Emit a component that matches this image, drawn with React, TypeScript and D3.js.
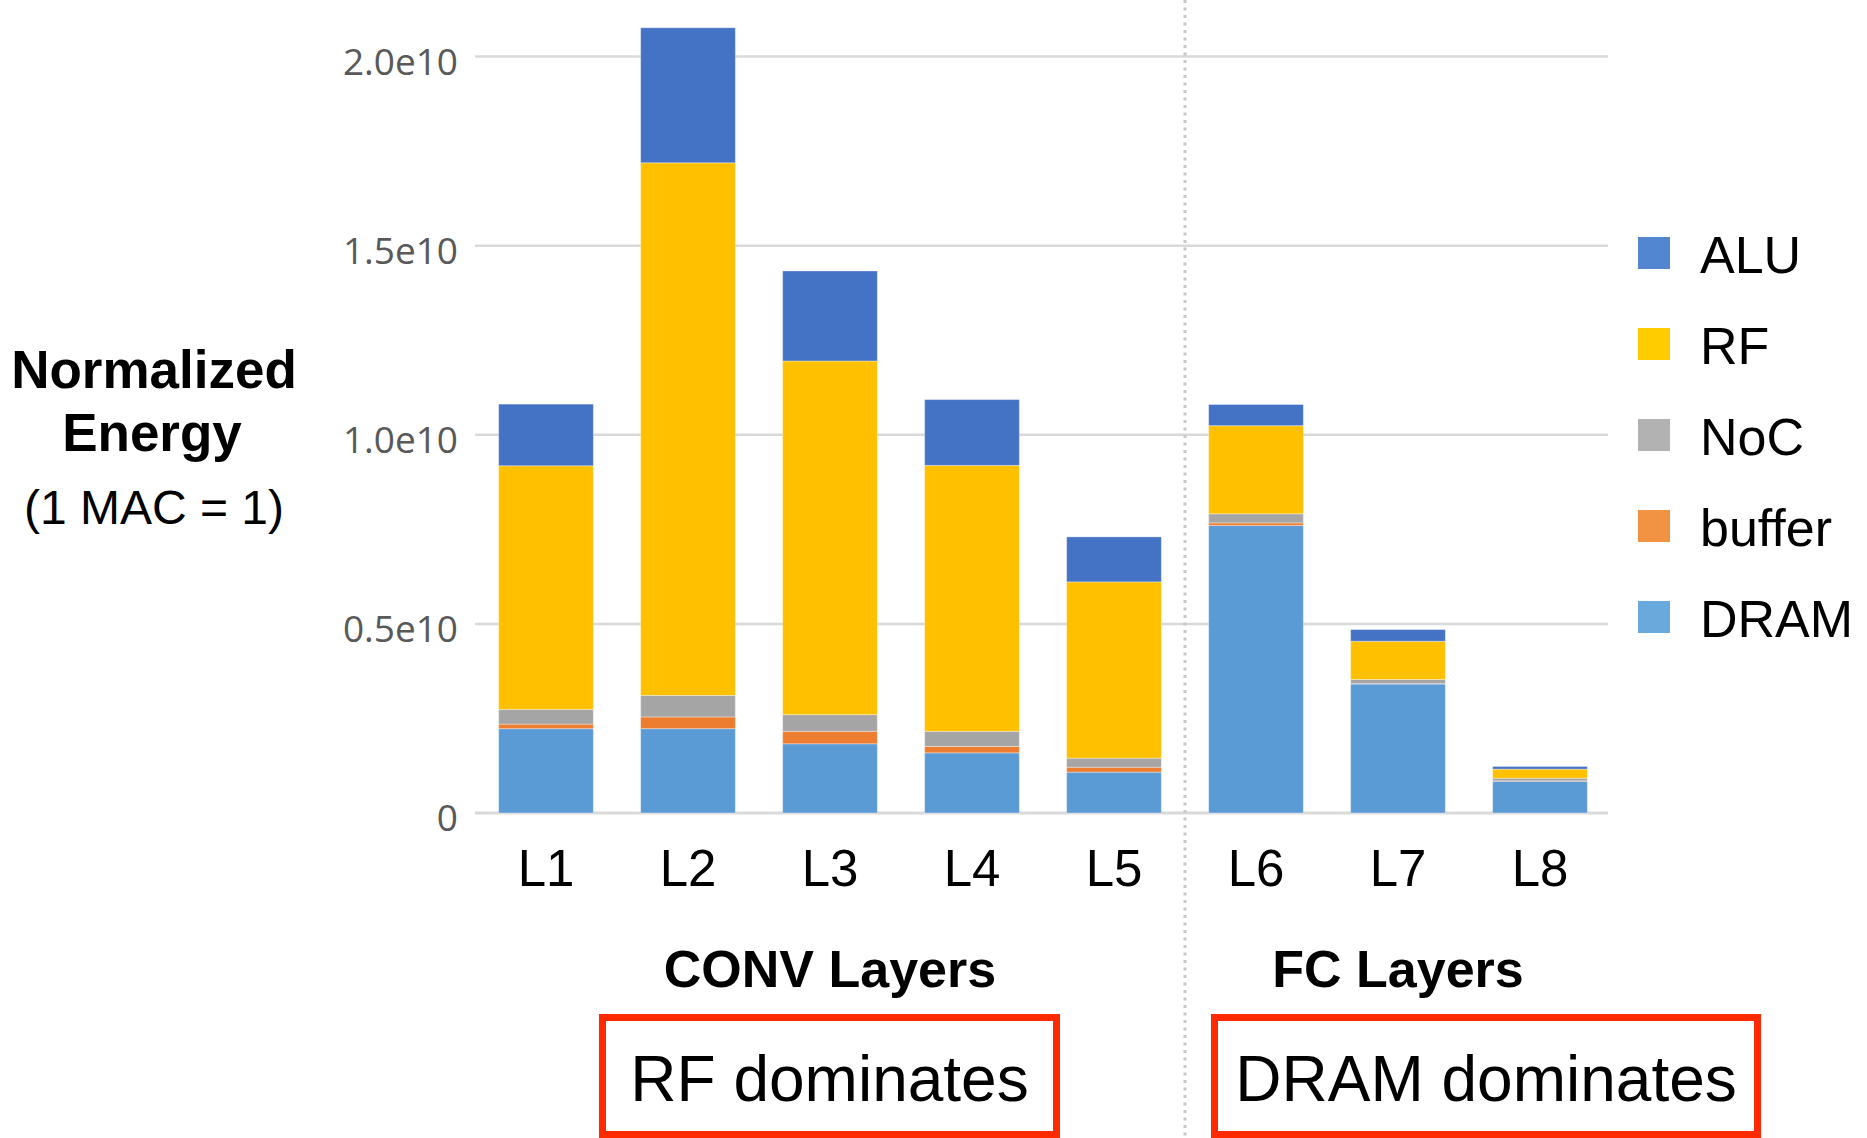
import React from "react";
import * as d3 from "d3";

const categories = ["L1", "L2", "L3", "L4", "L5", "L6", "L7", "L8"];
const DRAM = [2.23e9, 2.23e9, 1.83e9, 1.59e9, 1.08e9, 7.6e9, 3.41e9, 0.84e9];
const buffer = [0.12e9, 0.31e9, 0.33e9, 0.17e9, 0.13e9, 0.07e9, 0.01e9, 0.01e9];
const NoC = [0.39e9, 0.57e9, 0.44e9, 0.4e9, 0.24e9, 0.24e9, 0.11e9, 0.07e9];
const RF = [6.44e9, 14.08e9, 9.35e9, 7.03e9, 4.66e9, 2.33e9, 1.01e9, 0.24e9];
const ALU = [1.63e9, 3.57e9, 2.38e9, 1.74e9, 1.19e9, 0.56e9, 0.31e9, 0.07e9];

const stackKeys = ["DRAM", "buffer", "NoC", "RF", "ALU"];
const legendKeys = ["ALU", "RF", "NoC", "buffer", "DRAM"];
const barColors: Record<string, string> = {
  ALU: "#4472C4",
  RF: "#FFC000",
  NoC: "#A5A5A5",
  buffer: "#ED7D31",
  DRAM: "#5B9BD5",
};
const legendColors: Record<string, string> = {
  ALU: "#5386D0",
  RF: "#FFCC00",
  NoC: "#B2B2B2",
  buffer: "#F29343",
  DRAM: "#6AA9DB",
};

const yTicks = [0, 0.5e10, 1.0e10, 1.5e10, 2.0e10];
const yTickLabels = ["0", "0.5e10", "1.0e10", "1.5e10", "2.0e10"];

const groupLabels = ["CONV Layers", "FC Layers"];
const groupCenters = ["L3", "L7"];
const boxLabels = ["RF dominates", "DRAM dominates"];

export default function App() {
  const W = 1867;
  const H = 1138;
  const x = d3
    .scaleBand<string>()
    .domain(categories)
    .range([475, 1611])
    .paddingInner(0.333)
    .paddingOuter(0.1665);
  const y = d3.scaleLinear().domain([0, 2e10]).range([813, 56.5]);

  const rows = categories.map((c, i) => ({
    cat: c,
    DRAM: DRAM[i],
    buffer: buffer[i],
    NoC: NoC[i],
    RF: RF[i],
    ALU: ALU[i],
  }));
  const series = d3.stack<any>().keys(stackKeys)(rows);

  const divX = (x("L5")! + x.bandwidth() + x("L6")!) / 2;
  const sans = "'Liberation Sans', Arial, sans-serif";

  const boxes = [
    { x0: 599, x1: 1060, label: boxLabels[0] },
    { x0: 1211, x1: 1761, label: boxLabels[1] },
  ];

  return (
    <svg
      width={W}
      height={H}
      style={{ position: "absolute", left: 0, top: 0, display: "block", background: "#fff" }}
    >
      <rect x={0} y={0} width={W} height={H} fill="#fff" />
      {/* gridlines */}
      {yTicks.map((t, i) => (
        <line
          key={"g" + i}
          x1={475}
          x2={1608}
          y1={y(t)}
          y2={y(t)}
          stroke="#D9D9D9"
          strokeWidth={i === 0 ? 3 : 2.5}
        />
      ))}
      {/* tick labels */}
      {yTicks.map((t, i) => (
        <text
          key={"t" + i}
          x={458}
          y={y(t) + 18}
          textAnchor="end"
          fontFamily="'Open Sans', 'DejaVu Sans', sans-serif"
          fontSize={37}
          fill="#595959"
        >
          {yTickLabels[i]}
        </text>
      ))}
      {/* bars */}
      {series.map((s) => (
        <g key={s.key} fill={barColors[s.key]}>
          {s.map((d, j) => (
            <rect
              key={j}
              x={x(categories[j])}
              width={x.bandwidth()}
              y={y(d[1])}
              height={Math.max(0, y(d[0]) - y(d[1]))}
              stroke="#ffffff"
              strokeOpacity={0.35}
              strokeWidth={1}
            />
          ))}
        </g>
      ))}
      {/* divider */}
      <line
        x1={divX}
        x2={divX}
        y1={0}
        y2={H}
        stroke="#C8C8C8"
        strokeWidth={3}
        strokeDasharray="3 4.5"
      />
      {/* x labels */}
      {categories.map((c) => (
        <text
          key={c}
          x={x(c)! + x.bandwidth() / 2}
          y={886}
          textAnchor="middle"
          fontFamily={sans}
          fontSize={51}
          fill="#000"
        >
          {c}
        </text>
      ))}
      {/* group labels */}
      {groupLabels.map((g, i) => (
        <text
          key={g}
          x={x(groupCenters[i])! + x.bandwidth() / 2}
          y={987}
          textAnchor="middle"
          fontFamily={sans}
          fontWeight="bold"
          fontSize={52}
          fill="#000"
        >
          {g}
        </text>
      ))}
      {/* red boxes */}
      {boxes.map((b) => (
        <g key={b.label}>
          <rect
            x={b.x0 + 3.5}
            y={1017.5}
            width={b.x1 - b.x0 - 7}
            height={117}
            fill="none"
            stroke="#FF2A00"
            strokeWidth={7}
          />
          <text
            x={(b.x0 + b.x1) / 2}
            y={1101}
            textAnchor="middle"
            fontFamily={sans}
            fontSize={64}
            fill="#000"
          >
            {b.label}
          </text>
        </g>
      ))}
      {/* y-axis title */}
      <text x={154} y={388} textAnchor="middle" fontFamily={sans} fontWeight="bold" fontSize={53} fill="#000">
        Normalized
      </text>
      <text x={152} y={451} textAnchor="middle" fontFamily={sans} fontWeight="bold" fontSize={53} fill="#000">
        Energy
      </text>
      <text x={154} y={524} textAnchor="middle" fontFamily={sans} fontSize={48} fill="#000">
        (1 MAC = 1)
      </text>
      {/* legend */}
      {legendKeys.map((k, i) => {
        const cy = 253 + i * 91;
        return (
          <g key={k}>
            <rect x={1638} y={cy - 16} width={32} height={32} fill={legendColors[k]} />
            <text x={1700} y={cy + 20} fontFamily={sans} fontSize={52} fill="#000">
              {k}
            </text>
          </g>
        );
      })}
    </svg>
  );
}
